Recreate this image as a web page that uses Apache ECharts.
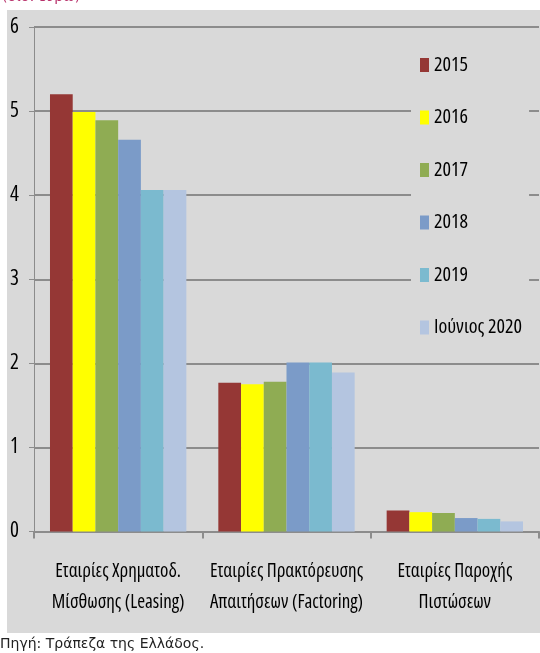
<!DOCTYPE html>
<html><head><meta charset="utf-8">
<script src="https://cdn.jsdelivr.net/npm/echarts@6/dist/echarts.min.js"></script>
<style>html,body{margin:0;padding:0;background:#fff}#c{width:540px;height:653px}</style>
</head><body><div id="c"></div>
<script>
const categories = ['Εταιρίες Χρηματοδ.\nΜίσθωσης (Leasing)', 'Εταιρίες Πρακτόρευσης\nΑπαιτήσεων (Factoring)', 'Εταιρίες Παροχής\nΠιστώσεων'];
const seriesNames = ['2015', '2016', '2017', '2018', '2019', 'Ιούνιος 2020'];
const v2015 = [5.20, 1.77, 0.25];
const v2016 = [4.99, 1.75, 0.23];
const v2017 = [4.89, 1.78, 0.22];
const v2018 = [4.66, 2.01, 0.16];
const v2019 = [4.06, 2.01, 0.15];
const v2020 = [4.06, 1.89, 0.12];
const yTicks = [0, 1, 2, 3, 4, 5, 6];
const colors = ['#953735', '#ffff00', '#8fac53', '#7b9bc8', '#7bbacf', '#b4c5e0'];
const values = [v2015, v2016, v2017, v2018, v2019, v2020];
const narrow = "'Open Sans', sans-serif";

const chart = echarts.init(document.getElementById('c'));
chart.setOption({
  backgroundColor: '#ffffff',
  animation: false,
  graphic: [
    { type: 'rect', z: -10, shape: { x: 7, y: 10, width: 533, height: 623 }, style: { fill: '#d9d9d9' } },
    { type: 'text', left: 2, top: -10, style: { text: '(δισ. ευρώ)', fill: '#b8306a', font: "14px 'DejaVu Sans'" } },
    { type: 'text', left: 0, top: 637, style: { text: 'Πηγή: Τράπεζα της Ελλάδος.', fill: '#222', font: "14px 'DejaVu Sans'" } }
  ],
  grid: { left: 34, right: 1, top: 27, bottom: 121.5, containLabel: false },
  legend: {
    orient: 'vertical', left: 411, top: 43,
    backgroundColor: '#d9d9d9',
    padding: [12, 7, 12, 9],
    itemWidth: 9, itemHeight: 14, itemGap: 32.5,
    icon: 'rect',
    textStyle: { fontFamily: narrow, fontWeight: 'condensed', fontSize: 20, color: '#000' },
    data: seriesNames
  },
  xAxis: {
    type: 'category', data: categories,
    axisLine: { lineStyle: { color: '#8c8c8c', width: 2 } },
    axisTick: { show: true, length: 7, lineStyle: { color: '#8c8c8c', width: 2 } },
    axisLabel: { fontFamily: narrow, fontWeight: 'condensed', fontSize: 19, color: '#000', lineHeight: 31, margin: 25, interval: 0 }
  },
  yAxis: {
    type: 'value', min: 0, max: 6, interval: 1,
    axisLine: { show: true, lineStyle: { color: '#8c8c8c', width: 1 } },
    axisTick: { show: true, length: 5, lineStyle: { color: '#8c8c8c' } },
    splitLine: { lineStyle: { color: '#8c8c8c', width: 2 } },
    axisLabel: { fontFamily: narrow, fontWeight: 'condensed', fontSize: 21, color: '#000', margin: 15,
      formatter: (v) => yTicks.includes(v) ? String(v) : '' }
  },
  series: seriesNames.map((n, i) => ({
    name: n, type: 'bar', data: values[i],
    barGap: '0%', barCategoryGap: '19%',
    itemStyle: { color: colors[i] }
  }))
});
</script></body></html>
